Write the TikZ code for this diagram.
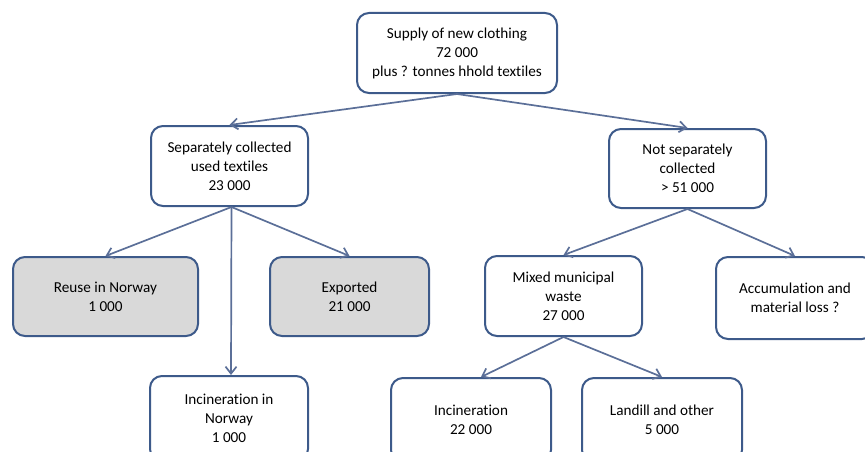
\documentclass[tikz,border=0pt]{standalone}
\usepackage{fontspec}
\setmainfont[Ligatures=NoCommon]{Carlito}
\usetikzlibrary{arrows.meta}
\definecolor{boxline}{HTML}{3D5A8A}
\definecolor{arrline}{HTML}{5B6F98}
\definecolor{greyfill}{HTML}{D9D9D9}
\begin{document}
\begin{tikzpicture}[x=1pt,y=-1pt,
  box/.style={draw=boxline,line width=2pt,rounded corners=12pt,fill=white,
    align=center,font=\fontsize{15.2}{19}\selectfont,inner sep=0pt,anchor=north west},
  greybox/.style={box,fill=greyfill},
  arr/.style={draw=arrline,line width=1.7pt,-{Straight Barb[length=7pt,width=11pt]}}]
\useasboundingbox (0,0) rectangle (865,452);
\node[box,minimum width=200pt,minimum height=80pt] (top) at (356,12) {Supply of new clothing\\72 000\\plus ? tonnes hhold textiles};
\node[box,minimum width=157pt,minimum height=80pt] (sep) at (150,125) {Separately collected\\used textiles\\23 000};
\node[box,minimum width=157pt,minimum height=79pt] (nsep) at (608,128) {Not separately\\collected\\> 51 000};
\node[greybox,minimum width=185pt,minimum height=79pt] (reuse) at (12,256) {Reuse in Norway\\1 000};
\node[greybox,minimum width=159pt,minimum height=79pt] (exp) at (269,256) {Exported\\21 000};
\node[box,minimum width=158pt,minimum height=85pt] (incn) at (149,375) {Incineration in\\Norway\\1 000};
\node[box,minimum width=157pt,minimum height=80pt] (mixed) at (484,255) {Mixed municipal\\waste\\27 000};
\node[box,minimum width=158pt,minimum height=82pt] (acc) at (715,256) {Accumulation and\\material loss ?};
\node[box,minimum width=160pt,minimum height=84pt] (inc) at (390,377) {Incineration\\22 000};
\node[box,minimum width=160pt,minimum height=84pt] (land) at (581,377) {Landill and other\\5 000};
\draw[arr] (top.south) -- (sep.north);
\draw[arr] (top.south) -- (nsep.north);
\draw[arr] ([xshift=2pt]sep.south) -- (reuse.north);
\draw[arr] ([xshift=2pt]sep.south) -- (exp.north);
\draw[arr] ([xshift=2pt]sep.south) -- ([xshift=2pt]incn.north);
\draw[arr] (nsep.south) -- (mixed.north);
\draw[arr] (nsep.south) -- (acc.north);
\draw[arr] (mixed.south) -- ([xshift=10pt]inc.north);
\draw[arr] (mixed.south) -- (land.north);
\end{tikzpicture}
\end{document}
